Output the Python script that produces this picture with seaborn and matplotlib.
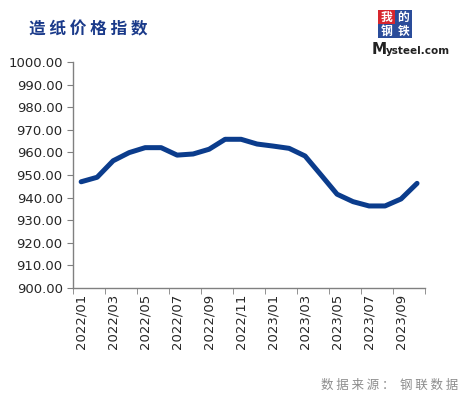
import pandas as pd
import seaborn as sns
import matplotlib.pyplot as plt
from matplotlib.patches import Rectangle

months = ["2022/01", "2022/02", "2022/03", "2022/04", "2022/05", "2022/06",
          "2022/07", "2022/08", "2022/09", "2022/10", "2022/11", "2022/12",
          "2023/01", "2023/02", "2023/03", "2023/04", "2023/05", "2023/06",
          "2023/07", "2023/08", "2023/09", "2023/10"]
index_values = [947.0, 949.0, 956.3, 959.9, 962.1, 962.1, 958.8, 959.3,
                961.4, 965.8, 965.8, 963.7, 962.8, 961.8, 958.4, 950.0,
                941.5, 938.2, 936.3, 936.3, 939.4, 946.3]
y_ticks = [900, 910, 920, 930, 940, 950, 960, 970, 980, 990, 1000]

sns.set_style("white")
plt.rcParams["font.family"] = ["DejaVu Sans", "Noto Sans CJK SC"]
cjk = ["Noto Sans CJK SC", "DejaVu Sans"]

df = pd.DataFrame({"month": months, "value": index_values})
df["pos"] = range(len(df))

fig = plt.figure(figsize=(4.63, 3.97), dpi=100)
ax = fig.add_axes([0.158, 0.2746, 0.76, 0.5692])

sns.lineplot(data=df, x="pos", y="value", ax=ax, color="#0B3C8C",
             linewidth=3.6, solid_capstyle="round")

ax.set_xlim(-0.5, len(months) - 0.5)
ax.set_ylim(900, 1000)
ax.set_yticks(y_ticks)
ax.set_yticklabels([f"{v:.2f}" for v in y_ticks], fontsize=9.5)
ax.set_xticks(df["pos"][::2])
ax.set_xticklabels(df["month"][::2], rotation=90, fontsize=9.5)
# tick marks sit between categories, like the original
ax.set_xticks([p - 0.5 for p in range(0, len(months) + 1, 2)], minor=True)
ax.tick_params(axis="x", which="major", length=0, pad=4)
ax.tick_params(axis="x", which="minor", length=4, color="#808080",
               direction="out", bottom=True)
ax.tick_params(axis="y", length=4, color="#808080", direction="out", left=True)
ax.set_xlabel("")
ax.set_ylabel("")
for side in ["top", "right"]:
    ax.spines[side].set_visible(False)
for side in ["left", "bottom"]:
    ax.spines[side].set_color("#808080")
    ax.spines[side].set_linewidth(1.0)

fig.text(0.063, 0.927, "造 纸 价 格 指 数", fontsize=12, fontweight="bold",
         color="#1A3A8A", family=cjk, va="center", ha="left")
fig.text(0.99, 0.03, "数 据 来 源 ：  钢 联 数 据", fontsize=9, color="#8C8C8C",
         family=cjk, ha="right", va="center")

# logo
logo_cells = [("我", 378, 10, "#D7262E"), ("的", 395, 10, "#2A4C9A"),
              ("钢", 378, 24, "#2A4C9A"), ("铁", 395, 24, "#2A4C9A")]
W, H = 463, 397
for ch, x0, y0, col in logo_cells:
    fig.patches.append(Rectangle((x0 / W, 1 - (y0 + 14) / H), 17 / W, 14 / H,
                                 transform=fig.transFigure, facecolor=col,
                                 edgecolor="none"))
    fig.text((x0 + 8.5) / W, 1 - (y0 + 7) / H, ch, fontsize=8.5, color="white",
             family=cjk, ha="center", va="center", fontweight="bold")
fig.text(372 / W, 1 - 50 / H, "M", fontsize=11, fontweight="bold",
         color="#222222", ha="left", va="center")
fig.text(386 / W, 1 - 51 / H, "ysteel.com", fontsize=7.5, fontweight="bold",
         color="#222222", ha="left", va="center")

fig.savefig("out.png", dpi=100)
